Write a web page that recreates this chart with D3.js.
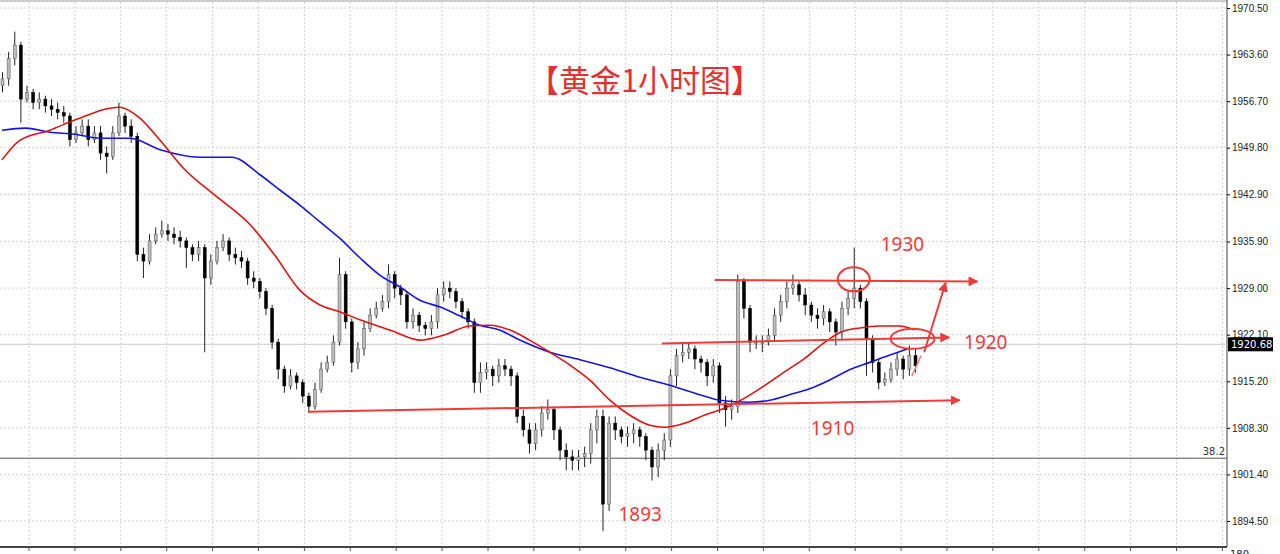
<!DOCTYPE html>
<html>
<head>
<meta charset="utf-8">
<script src="https://cdn.jsdelivr.net/npm/d3@7"></script>
<style>
  body { margin: 0; background: #fff; }
  svg { display: block; font-family: "DejaVu Sans", sans-serif; }
</style>
</head>
<body>
<svg id="chart" width="1280" height="554"></svg>
<script>
// candle closes (open = previous close)
const closes = [1960,1963,1965,1957,1958,1956.5,1957,1956,1955.5,1955,1954.5,1951,1952,1953,1951,1952,1949,1948.5,1952,1954.5,
  1953,1951.5,1934,1933,1936,1937,1937.5,1937,1936.5,1936,1935,1934,1935,1930.5,1933,1935,1936,1934,1933.5,1933,
  1930.5,1930,1928.5,1926,1921,1917,1914.5,1916,1915,1913,1911.5,1914,1917,1918,1921,1931,1924,1918,1920,1923,
  1925,1926,1927,1931,1929,1928,1924,1925,1923.5,1923,1924,1928,1929,1928.5,1927,1925.5,1924,1915,1916.5,1917,
  1916,1917.5,1917,1916,1910,1908,1906,1908,1910.5,1911,1908,1905,1904,1903.5,1904,1904.5,1908,1910,1897,1909,
  1908,1907,1907.5,1908,1907,1905,1902.5,1905,1906.5,1916,1919,1919.5,1920,1918.5,1918,1916,1917.5,1912,1911,1911.5,
  1930,1926,1921,1921,1921,1922,1925,1927,1929,1929.5,1928,1926.5,1925,1924.5,1925.5,1924,1922.5,1926,1927.5,1929,
  1927,1921.5,1918,1915,1915.5,1917,1918.5,1917,1919,1917.5];
const firstOpen = 1959;
const highs = [1961,1964,1967,1965.5,1959,1958.5,1958,1957.5,1957,1956.5,1956,1955,1953,1954,1954,1953,1953,1950,1953,1956.5,
  1955,1954,1952,1935,1937,1938,1939,1938.5,1938,1937.5,1936.5,1935.5,1936,1935.5,1934,1936,1937,1936.5,1935,1934.5,
  1933.5,1931.5,1930.5,1929,1926.5,1921.5,1917.5,1917,1916.5,1915.5,1913.5,1915,1918,1919,1922,1933.5,1931.5,1924.5,1921,1924,
  1926,1927,1928,1932.5,1931.5,1929.5,1928.5,1926,1925.5,1924,1925,1929,1930,1930,1929,1927.5,1926,1924.5,1918,1918,
  1917.5,1918.5,1918.5,1917.5,1916.5,1911,1909,1909,1911.5,1912.5,1911.5,1908.5,1906,1905,1905,1905.5,1909,1911,1911,1910,
  1910,1908.5,1908.5,1909,1908.5,1907.5,1905.5,1906,1907.5,1917,1920,1921,1921,1920.5,1919,1918.5,1918.5,1918,1913,1912.5,
  1931,1930.5,1926.5,1922,1922,1923,1926,1928,1930,1931,1930,1929,1927,1926,1926.5,1926,1924.5,1927,1928.5,1935,
  1929.5,1927.5,1922,1918.5,1916.5,1918,1919.5,1919,1920.5,1920];
const lows = [1958,1959,1962,1953.5,1956.5,1955.5,1955.5,1955,1954.5,1954,1953.5,1950,1950.5,1951.5,1950,1950.5,1948,1946,1948,1951.5,
  1952,1950.5,1933,1930.5,1932.5,1935.5,1936.5,1936,1935.5,1935,1932,1933,1933,1919.5,1929.5,1932.5,1934.5,1933,1932.5,1932,
  1929.5,1929,1927.5,1925,1920,1915.5,1913.5,1914,1914,1912,1910.5,1911,1913.5,1916.5,1917.5,1920.5,1923,1916.5,1917,1919,
  1922.5,1924.5,1925.5,1926,1927.5,1926.5,1923,1923,1922.5,1922,1922,1923,1927,1927.5,1926,1924.5,1923,1913.5,1913.5,1915.5,
  1914.5,1915,1916,1914.5,1909,1907,1904.5,1905,1907,1909.5,1906.5,1903.5,1902,1902,1902,1902.5,1903,1906,1893,1896,
  1906.5,1906,1905.5,1906,1905.5,1903.5,1900.5,1901,1903.5,1905.5,1914.5,1918,1918.5,1917,1916.5,1914.5,1915,1910.5,1908.5,1909.5,
  1910.5,1924.5,1919.5,1920,1919.5,1920.5,1921,1924,1926,1928,1927,1925,1924,1923,1923.5,1922.5,1920.5,1921.5,1925,1926,
  1926,1916,1916.5,1914,1914.5,1915,1916,1915.5,1916,1916.5];

// moving averages: candle index / price
const redIdx = [0,2.9,7.8,11.9,19.2,22.5,25.8,29.9,34.7,40.5,44.5,48.6,51.9,55.1,58.4,63.3,68.2,72.3,76.3,79.6,82.9,86.1,89.4,92.7,95.9,99.2,102.4,105.7,108.2,111.4,114.7,117.9,121.2,124.5,127.7,131,134.3,136.7,140,143.2,146.5,148.9];
const redVal = [1948,1950.9,1952.4,1953.9,1955.8,1954.2,1950.9,1946.5,1942.8,1938.4,1933.9,1928.7,1926.5,1925.5,1924.3,1922.8,1921.3,1922.1,1923.4,1923.5,1922.8,1921.3,1919.5,1917.6,1915.4,1912.4,1910.2,1908.7,1908.4,1909,1910.2,1911.2,1912.7,1914.6,1916.6,1918.6,1921,1922.4,1923.1,1923.4,1923.4,1922.8];
const blueIdx = [0,3.8,7.8,11.9,16,20.9,25.8,32.3,37.5,42.1,45.4,48.6,51.9,55.1,58.4,61.7,64.9,68.2,71.5,74.7,78,81.2,84.5,89.4,94.3,99.2,104.1,109,113.9,117.1,122,125.3,128.5,131.8,135.1,138.3,141.6,144.9,148.1];
const blueVal = [1952.4,1952.7,1952.1,1951.8,1951.2,1951.2,1949.5,1948.4,1948.4,1945.8,1943.5,1941.3,1938.8,1936.4,1933.5,1930.9,1929.2,1927.2,1926.2,1924.9,1923.5,1922.8,1921.3,1919.5,1918.4,1917.2,1915.8,1914.6,1913.2,1912.4,1912.1,1912.4,1913.2,1914.1,1915.4,1916.9,1918,1919.1,1920.1];

const tickVals = [1970.5,1963.6,1956.7,1949.8,1942.9,1935.9,1929.0,1922.1,1915.2,1908.3,1901.4,1894.5];
const tickLabels = ["1970.50","1963.60","1956.70","1949.80","1942.90","1935.90","1929.00","1922.10","1915.20","1908.30","1901.40","1894.50"];
const lastPrice = 1920.68;
const fiboPrice = 1903.8;

// annotation levels drawn on the picture: [startIdx, startPrice, endIdx, endPrice]
const levels = [[50,1910.7,156.3,1912.4],[107.7,1920.8,154.6,1921.7],[116.3,1930.2,159.2,1930.0]];
const levelTexts = [["1930",143.4,1934.5],["1920",157,1920],["1910",132,1907.3],["1893",100.6,1894.5]];

const svg = d3.select("#chart");
const W = 1227, H = 547;
const x = d3.scaleLinear().domain([0, closes.length - 1]).range([2, 915]);
const y = d3.scaleLinear().domain([1894.5, 1970.5]).range([521, 8]);
const red = "#ee3b3b";

// grid
for (let gx = 29; gx < W; gx += 45.9) {
  svg.append("line").attr("x1", gx).attr("x2", gx).attr("y1", 2).attr("y2", H)
    .attr("stroke", "#d0d0d0").attr("stroke-dasharray", "2,2");
  svg.append("line").attr("x1", gx).attr("x2", gx).attr("y1", H).attr("y2", H + 4).attr("stroke", "#555");
}
svg.selectAll(".hgrid").data(tickVals).enter().append("line")
  .attr("x1", 0).attr("x2", W).attr("y1", d => y(d)).attr("y2", d => y(d))
  .attr("stroke", "#d0d0d0").attr("stroke-dasharray", "2,2");

// frame
svg.append("line").attr("x1", 0).attr("x2", W).attr("y1", 1).attr("y2", 1).attr("stroke", "#999");
svg.append("line").attr("x1", W).attr("x2", W).attr("y1", 0).attr("y2", H).attr("stroke", "#444");
svg.append("line").attr("x1", 0).attr("x2", W).attr("y1", H).attr("y2", H).attr("stroke", "#444").attr("stroke-width", 2);

// right axis
const axis = svg.append("g").attr("transform", `translate(${W},0)`)
  .call(d3.axisRight(y).tickValues(tickVals).tickSize(3).tickFormat((d, i) => tickLabels[i]));
axis.select(".domain").remove();
axis.selectAll("text").attr("font-size", 10).attr("fill", "#222").attr("x", 5);
svg.append("text").attr("x", 1230).attr("y", 558).attr("font-size", 10).attr("fill", "#222").text("180");

// last price & fibo line
svg.append("line").attr("x1", 0).attr("x2", W).attr("y1", y(lastPrice)).attr("y2", y(lastPrice)).attr("stroke", "#c8c8c8");
svg.append("rect").attr("x", W + 1).attr("y", y(lastPrice) - 7).attr("width", 45).attr("height", 14).attr("fill", "#000");
svg.append("text").attr("x", W + 4).attr("y", y(lastPrice) + 4).attr("font-size", 10).attr("fill", "#fff").text("1920.68");
svg.append("line").attr("x1", 0).attr("x2", W).attr("y1", y(fiboPrice)).attr("y2", y(fiboPrice)).attr("stroke", "#555");
svg.append("text").attr("x", W - 2).attr("y", y(fiboPrice) - 3).attr("text-anchor", "end")
  .attr("font-size", 10).attr("fill", "#333").text("38.2");

// candles
const candles = closes.map((c, i) => ({ i, o: i ? closes[i - 1] : firstOpen, c, h: highs[i], l: lows[i] }));
const cg = svg.append("g");
cg.selectAll(".wick").data(candles).enter().append("line")
  .attr("x1", d => x(d.i) + 0.5).attr("x2", d => x(d.i) + 0.5)
  .attr("y1", d => y(d.h)).attr("y2", d => y(d.l)).attr("stroke", "#222");
cg.selectAll(".body").data(candles).enter().append("rect")
  .attr("x", d => x(d.i) - 1).attr("width", 3)
  .attr("y", d => y(Math.max(d.o, d.c)))
  .attr("height", d => Math.max(1, Math.abs(y(d.o) - y(d.c))))
  .attr("fill", d => d.c >= d.o ? "#bbb" : "#000")
  .attr("stroke", d => d.c >= d.o ? "#555" : "#000").attr("stroke-width", 0.5);

// moving averages
const line = d3.line().x(d => x(d[0])).y(d => y(d[1])).curve(d3.curveMonotoneX);
svg.append("path").datum(blueIdx.map((v, i) => [v, blueVal[i]])).attr("d", line)
  .attr("fill", "none").attr("stroke", "#1515e0").attr("stroke-width", 1.6);
svg.append("path").datum(redIdx.map((v, i) => [v, redVal[i]])).attr("d", line)
  .attr("fill", "none").attr("stroke", "#e31010").attr("stroke-width", 1.6);

// annotations
svg.append("defs").append("marker").attr("id", "arr").attr("viewBox", "0 0 10 10")
  .attr("refX", 9).attr("refY", 5).attr("markerWidth", 5).attr("markerHeight", 5).attr("orient", "auto")
  .append("path").attr("d", "M0,0 L10,5 L0,10 z").attr("fill", red);
svg.selectAll(".lvl").data(levels).enter().append("line")
  .attr("x1", d => x(d[0])).attr("y1", d => y(d[1])).attr("x2", d => x(d[2])).attr("y2", d => y(d[3]))
  .attr("stroke", red).attr("stroke-width", 2).attr("marker-end", "url(#arr)");
svg.append("line").attr("x1", x(150.5)).attr("y1", y(1919.5)).attr("x2", x(154)).attr("y2", y(1929.8))
  .attr("stroke", red).attr("stroke-width", 2).attr("marker-end", "url(#arr)");
svg.append("line").attr("x1", x(148.5)).attr("y1", y(1916)).attr("x2", x(150)).attr("y2", y(1919))
  .attr("stroke", "#f08080").attr("stroke-width", 1.5);
svg.append("ellipse").attr("cx", x(139)).attr("cy", y(1930.3)).attr("rx", 16).attr("ry", 12)
  .attr("fill", "none").attr("stroke", red).attr("stroke-width", 2);
svg.append("ellipse").attr("cx", x(148.6)).attr("cy", y(1921.5)).attr("rx", 22).attr("ry", 10)
  .attr("fill", "none").attr("stroke", red).attr("stroke-width", 2);
svg.selectAll(".lt").data(levelTexts).enter().append("text")
  .attr("x", d => x(d[1])).attr("y", d => y(d[2]))
  .attr("font-family", "'Noto Sans', sans-serif").attr("font-size", 19).attr("fill", red).text(d => d[0]);

svg.append("text").attr("x", 645).attr("y", 92).attr("text-anchor", "middle")
  .attr("font-family", "'Noto Sans CJK SC', sans-serif").attr("font-size", 31).attr("fill", "#e53030")
  .text("【黄金1小时图】");
</script>
</body>
</html>
